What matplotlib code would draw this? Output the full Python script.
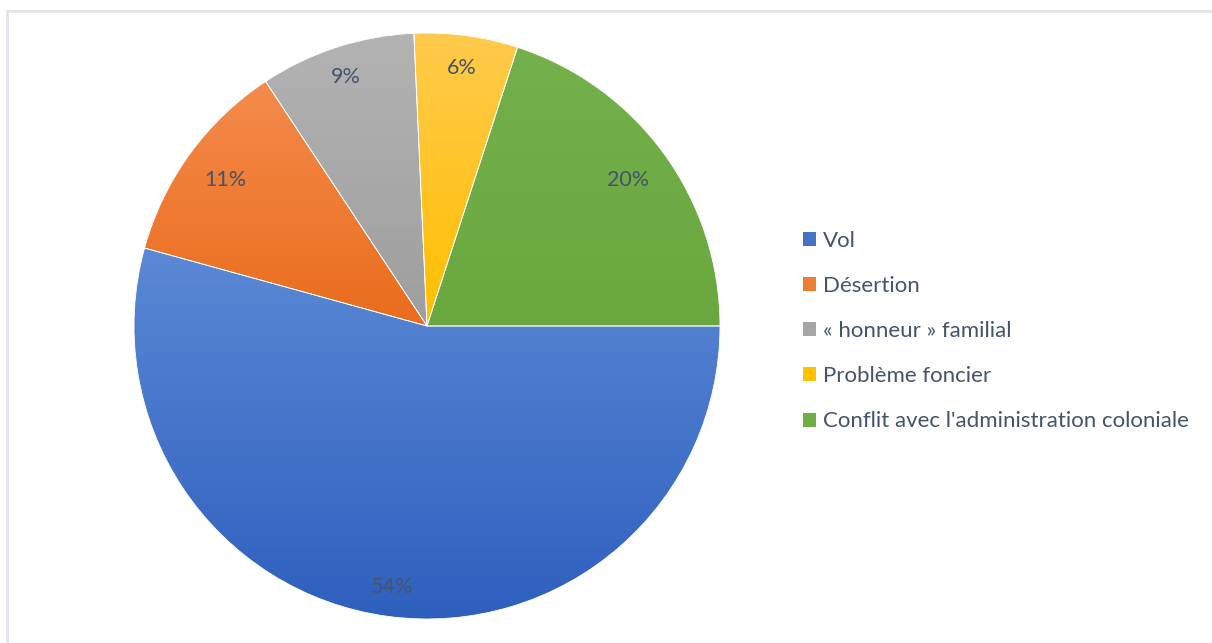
import numpy as np
import matplotlib
matplotlib.use("Agg")
import matplotlib.pyplot as plt
from matplotlib.colors import LinearSegmentedColormap
from matplotlib.patches import Patch
from matplotlib.lines import Line2D

plt.rcParams['font.family'] = ['Lato', 'DejaVu Sans']

# cases by motive (n = 35)
categories = ["Vol", "Désertion", "« honneur » familial", "Problème foncier",
              "Conflit avec l'administration coloniale"]
counts = [19, 4, 3, 2, 7]

# (top, bottom) gradient colours for each slice
top_colors = ["#5b89d6", "#f48b4c", "#b3b3b3", "#ffca4c", "#74b04b"]
bottom_colors = ["#2e5fbd", "#ea6c1b", "#9e9e9e", "#ffbf00", "#6aa83f"]
legend_colors = ["#4472c4", "#ed7d31", "#a5a5a5", "#ffc000", "#70ad47"]
text_color = "#44546a"

# radial distance of each percentage label
label_dist = [0.90, 0.85, 0.895, 0.89, 0.85]

W, H = 1212, 643
fig = plt.figure(figsize=(W / 100, H / 100), dpi=100)
fig.patch.set_facecolor("white")

# chart area border
fig.add_artist(Line2D([7 / W, 7 / W], [0, 1 - 11 / H], color="#e2e5ea", lw=2,
                      transform=fig.transFigure))
fig.add_artist(Line2D([7 / W, 1], [1 - 11 / H, 1 - 11 / H], color="#e2e5ea", lw=2,
                      transform=fig.transFigure))

cx, cy, R = 427, 326, 293
ax = fig.add_axes([(cx - R) / W, (H - cy - R) / H, 2 * R / W, 2 * R / H])

wedges, texts, autotexts = ax.pie(
    counts, startangle=0, counterclock=False, radius=1,
    autopct=lambda p: f"{p:.0f}%", pctdistance=1.0,
    wedgeprops=dict(edgecolor="white", linewidth=0.6),
    textprops=dict(color=text_color, fontsize=15.5))

grad = np.linspace(0, 1, 256).reshape(-1, 1)
for w, top, bot in zip(wedges, top_colors, bottom_colors):
    ext = w.get_path().get_extents()
    cmap = LinearSegmentedColormap.from_list("g", [bot, top])
    im = ax.imshow(grad, extent=[ext.x0, ext.x1, ext.y0, ext.y1], origin="lower",
                   cmap=cmap, aspect="auto", zorder=1, interpolation="bilinear")
    im.set_clip_path(w)
    w.set_facecolor("none")
    w.set_zorder(2)
for t, d in zip(autotexts, label_dist):
    x, y = t.get_position()
    t.set_position((x * d, y * d))
    t.set_zorder(3)

ax.set_xlim(-1, 1)
ax.set_ylim(-1, 1)
ax.set_aspect("equal")
ax.axis("off")

handles = [Patch(facecolor=c) for c in legend_colors]
fig.legend(handles, categories, loc="center left",
           bbox_to_anchor=(783 / W, 1 - 331 / H), frameon=False,
           fontsize=16, labelcolor=text_color, handlelength=0.6,
           handleheight=0.6, handletextpad=0.28, labelspacing=1.135)

fig.savefig("out.png", dpi=100, facecolor="white")
